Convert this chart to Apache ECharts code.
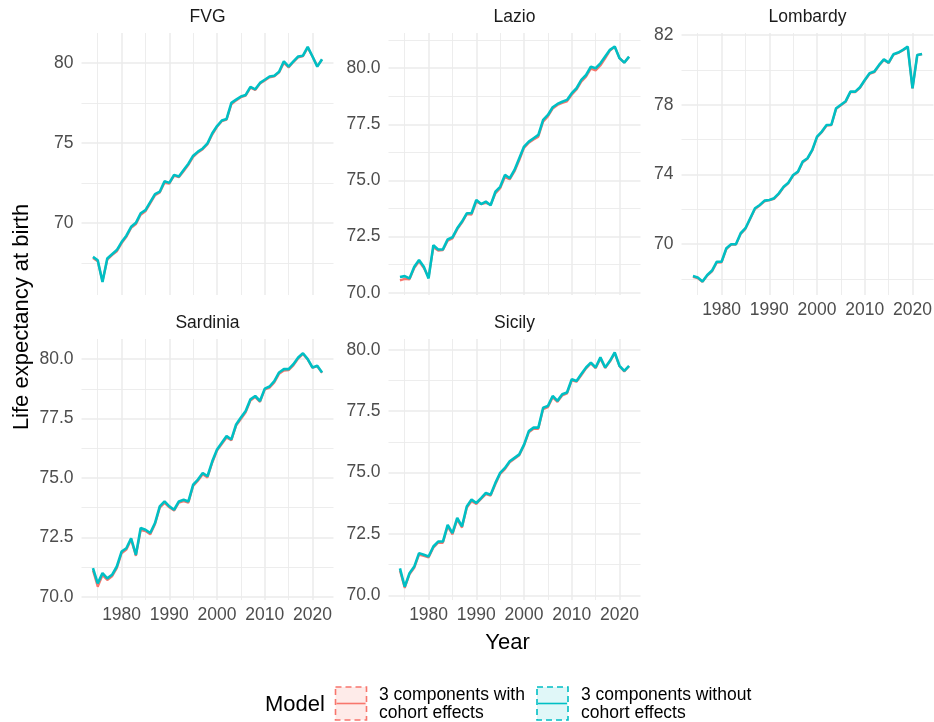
<!DOCTYPE html>
<html>
<head>
<meta charset="utf-8">
<title>Life expectancy at birth by region</title>
<script src="https://cdn.jsdelivr.net/npm/echarts@6/dist/echarts.min.js"></script>
<style>
  html, body { margin: 0; padding: 0; background: #ffffff; }
  #chart { width: 934px; height: 722px; }
</style>
</head>
<body>
<div id="chart"></div>
<script>
// Calendar years 1974–2022
const years = [];
for (let y = 1974; y <= 2022; y++) years.push(y);

const regions = ['FVG', 'Lazio', 'Lombardy', 'Sardinia', 'Sicily'];
const modelNames = ['3 components with\ncohort effects', '3 components without\ncohort effects'];

// Life expectancy at birth, model without cohort effects
const fvgWithout = [67.87, 67.66, 66.30, 67.77, 68.04, 68.30, 68.80, 69.20, 69.75, 70.00,
  70.60, 70.80, 71.30, 71.80, 71.95, 72.60, 72.50, 73.00, 72.90, 73.30,
  73.70, 74.20, 74.45, 74.65, 74.97, 75.60, 76.05, 76.40, 76.50, 77.50,
  77.70, 77.90, 78.00, 78.50, 78.35, 78.75, 78.95, 79.15, 79.20, 79.45,
  80.10, 79.77, 80.10, 80.40, 80.45, 81.00, 80.40, 79.77, 80.23];
const lazioWithout = [70.70, 70.74, 70.64, 71.16, 71.46, 71.16, 70.64, 72.12, 71.93, 71.93,
  72.38, 72.47, 72.87, 73.17, 73.54, 73.54, 74.13, 73.95, 74.06, 73.90,
  74.50, 74.72, 75.25, 75.10, 75.47, 75.99, 76.51, 76.73, 76.88, 77.03,
  77.70, 77.92, 78.26, 78.41, 78.51, 78.59, 78.89, 79.11, 79.48, 79.70,
  80.07, 80.00, 80.22, 80.52, 80.82, 80.97, 80.45, 80.25, 80.52];
const lombardyWithout = [68.18, 68.10, 67.86, 68.24, 68.49, 69.00, 69.00, 69.77, 70.00, 70.00,
  70.63, 70.92, 71.49, 72.06, 72.25, 72.50, 72.54, 72.64, 72.92, 73.30,
  73.53, 73.97, 74.16, 74.74, 74.93, 75.41, 76.17, 76.46, 76.84, 76.85,
  77.80, 78.00, 78.20, 78.75, 78.75, 79.00, 79.42, 79.80, 79.90, 80.28,
  80.60, 80.41, 80.89, 80.99, 81.14, 81.33, 78.94, 80.85, 80.91];
const sardiniaWithout = [71.20, 70.56, 70.99, 70.77, 70.92, 71.27, 71.90, 72.04, 72.46, 71.76,
  72.89, 72.82, 72.68, 73.10, 73.80, 74.01, 73.80, 73.66, 74.01, 74.08,
  74.01, 74.72, 74.93, 75.21, 75.07, 75.70, 76.20, 76.48, 76.76, 76.62,
  77.25, 77.54, 77.82, 78.31, 78.45, 78.24, 78.76, 78.85, 79.08, 79.44,
  79.58, 79.58, 79.79, 80.07, 80.25, 80.00, 79.65, 79.72, 79.44];
const sicilyWithout = [71.10, 70.35, 70.90, 71.17, 71.72, 71.65, 71.58, 71.99, 72.19, 72.19,
  72.87, 72.53, 73.15, 72.81, 73.62, 73.90, 73.76, 73.96, 74.17, 74.10,
  74.58, 74.99, 75.19, 75.46, 75.60, 75.74, 76.14, 76.69, 76.83, 76.83,
  77.64, 77.71, 78.12, 77.92, 78.19, 78.26, 78.80, 78.73, 79.01, 79.28,
  79.48, 79.28, 79.69, 79.28, 79.55, 79.89, 79.35, 79.14, 79.35];

// Life expectancy at birth, model with cohort effects
const fvgWith = [67.80, 67.60, 66.35, 67.70, 67.98, 68.22, 68.72, 69.12, 69.68, 69.92,
  70.50, 70.72, 71.22, 71.72, 71.90, 72.50, 72.45, 72.95, 72.85, 73.22,
  73.62, 74.12, 74.40, 74.60, 74.92, 75.52, 76.00, 76.35, 76.45, 77.40,
  77.65, 77.85, 77.95, 78.45, 78.30, 78.70, 78.90, 79.10, 79.15, 79.40,
  80.00, 79.72, 80.05, 80.35, 80.42, 80.95, 80.40, 79.80, 80.20];
const lazioWith = [70.55, 70.62, 70.60, 71.10, 71.40, 71.10, 70.70, 72.02, 71.88, 71.90,
  72.32, 72.42, 72.82, 73.12, 73.50, 73.48, 74.05, 73.95, 74.00, 73.92,
  74.42, 74.65, 75.15, 75.05, 75.40, 75.90, 76.45, 76.68, 76.82, 76.95,
  77.62, 77.85, 78.20, 78.36, 78.45, 78.52, 78.82, 79.05, 79.40, 79.62,
  79.98, 79.90, 80.12, 80.44, 80.78, 80.95, 80.45, 80.25, 80.50];
const lombardyWith = [68.12, 68.05, 67.84, 68.20, 68.44, 68.95, 68.96, 69.72, 69.97, 69.98,
  70.58, 70.88, 71.45, 72.02, 72.22, 72.46, 72.52, 72.60, 72.88, 73.26,
  73.50, 73.93, 74.12, 74.70, 74.90, 75.37, 76.13, 76.42, 76.80, 76.82,
  77.76, 77.96, 78.16, 78.72, 78.72, 78.96, 79.38, 79.76, 79.86, 80.24,
  80.56, 80.38, 80.86, 80.96, 81.12, 81.30, 78.94, 80.84, 80.90];
const sardiniaWith = [71.10, 70.42, 70.90, 70.70, 70.85, 71.20, 71.82, 71.98, 72.40, 71.72,
  72.80, 72.76, 72.62, 73.05, 73.74, 73.95, 73.76, 73.62, 73.96, 74.02,
  73.96, 74.66, 74.88, 75.15, 75.02, 75.64, 76.15, 76.42, 76.70, 76.58,
  77.20, 77.48, 77.76, 78.26, 78.40, 78.20, 78.72, 78.80, 79.02, 79.38,
  79.52, 79.54, 79.74, 80.02, 80.22, 79.98, 79.64, 79.70, 79.42];
const sicilyWith = [71.00, 70.30, 70.85, 71.12, 71.66, 71.60, 71.54, 71.94, 72.14, 72.14,
  72.80, 72.48, 73.08, 72.76, 73.56, 73.84, 73.72, 73.92, 74.12, 74.06,
  74.52, 74.94, 75.14, 75.42, 75.56, 75.70, 76.10, 76.64, 76.78, 76.78,
  77.58, 77.66, 78.06, 77.88, 78.14, 78.22, 78.75, 78.70, 78.96, 79.24,
  79.44, 79.25, 79.64, 79.26, 79.52, 79.86, 79.33, 79.12, 79.33];

const withCohort = [fvgWith, lazioWith, lombardyWith, sardiniaWith, sicilyWith];
const withoutCohort = [fvgWithout, lazioWithout, lombardyWithout, sardiniaWithout, sicilyWithout];

// Axis breaks
const xMajorTicks = [1980, 1990, 2000, 2010, 2020];
const xMinorTicks = [1975, 1985, 1995, 2005, 2015];
const yMajorTicks = [
  [70, 75, 80],
  [70, 72.5, 75, 77.5, 80],
  [70, 74, 78, 82],
  [70, 72.5, 75, 77.5, 80],
  [70, 72.5, 75, 77.5, 80]
];
const yMinorTicks = [
  [67.5, 72.5, 77.5],
  [71.25, 73.75, 76.25, 78.75, 81.25],
  [68, 72, 76, 80],
  [71.25, 73.75, 76.25, 78.75],
  [71.25, 73.75, 76.25, 78.75]
];
const yDecimals = [0, 1, 0, 1, 1];
const yRanges = [[65.49, 81.87], [69.90, 81.57], [67.09, 82.11], [69.86, 80.85], [69.81, 80.44]];
const xRange = [1971.6, 2024.4];

// Panel layout (facet_wrap, 3 columns)
const panels = [
  { left: 81.5, top: 33, width: 252, height: 262, xLabels: false },
  { left: 388.5, top: 33, width: 252, height: 262, xLabels: false },
  { left: 681.5, top: 33, width: 252, height: 262, xLabels: true },
  { left: 81.5, top: 339, width: 252, height: 261, xLabels: true },
  { left: 388.5, top: 339, width: 252, height: 261, xLabels: true }
];

const RED = '#F8766D';
const TEAL = '#00BFC4';
const GRID = '#EBEBEB';
const FONT = "'Liberation Sans', Arial, sans-serif";

const grids = [], xAxes = [], yAxes = [], series = [], graphics = [];

panels.forEach((p, i) => {
  grids.push({ left: p.left, top: p.top, width: p.width, height: p.height,
    containLabel: false, outerBoundsMode: 'none', show: false });

  const baseX = { type: 'value', gridIndex: i, min: xRange[0], max: xRange[1],
    axisLine: { show: false } };
  xAxes.push(Object.assign({}, baseX, {
    axisTick: { show: false, customValues: xMajorTicks },
    axisLabel: { show: p.xLabels, customValues: xMajorTicks, formatter: v => String(v),
      color: '#4d4d4d', fontSize: 17.5, fontFamily: FONT, margin: 6 },
    splitLine: { show: true, lineStyle: { color: GRID, width: 1.5 } }
  }));
  xAxes.push(Object.assign({}, baseX, {
    axisTick: { show: false, customValues: xMinorTicks },
    axisLabel: { show: false, customValues: xMinorTicks },
    splitLine: { show: true, lineStyle: { color: GRID, width: 0.9 } }
  }));

  const baseY = { type: 'value', gridIndex: i, min: yRanges[i][0], max: yRanges[i][1],
    axisLine: { show: false } };
  yAxes.push(Object.assign({}, baseY, {
    axisTick: { show: false, customValues: yMajorTicks[i] },
    axisLabel: { show: true, customValues: yMajorTicks[i],
      formatter: v => Number(v).toFixed(yDecimals[i]),
      color: '#4d4d4d', fontSize: 17.5, fontFamily: FONT, margin: 8 },
    splitLine: { show: true, lineStyle: { color: GRID, width: 1.5 } }
  }));
  yAxes.push(Object.assign({}, baseY, {
    axisTick: { show: false, customValues: yMinorTicks[i] },
    axisLabel: { show: false, customValues: yMinorTicks[i] },
    splitLine: { show: true, lineStyle: { color: GRID, width: 0.9 } }
  }));

  [[withCohort[i], RED, 2.2, 2], [withoutCohort[i], TEAL, 2.6, 3]].forEach(([vals, color, w, z], k) => {
    series.push({
      name: modelNames[k],
      type: 'line',
      xAxisIndex: 2 * i,
      yAxisIndex: 2 * i,
      data: years.map((y, j) => [y, vals[j]]),
      showSymbol: false,
      symbol: 'none',
      z: z,
      lineStyle: { color: color, width: w },
      itemStyle: { color: color },
      emphasis: { disabled: true },
      animation: false
    });
  });

  // Facet strip label
  graphics.push({
    type: 'text', x: p.left + p.width / 2, y: p.top - 16,
    style: { text: regions[i], fill: '#1a1a1a', font: `17.5px ${FONT}`,
      textAlign: 'center', textVerticalAlign: 'middle' }
  });
});

// Axis titles
graphics.push({
  type: 'text', x: 507.5, y: 643,
  style: { text: 'Year', fill: '#000000', font: `22px ${FONT}`,
    textAlign: 'center', textVerticalAlign: 'middle' }
});
graphics.push({
  type: 'text', x: 22, y: 317, rotation: Math.PI / 2,
  style: { text: 'Life expectancy at birth', fill: '#000000', font: `22px ${FONT}`,
    textAlign: 'center', textVerticalAlign: 'middle' }
});

// Legend
graphics.push({
  type: 'text', x: 265, y: 705,
  style: { text: 'Model', fill: '#000000', font: `22px ${FONT}`,
    textAlign: 'left', textVerticalAlign: 'middle' }
});
const legendKeys = [
  { x: 335.5, color: RED, fill: 'rgba(248,118,109,0.15)', textX: 379 },
  { x: 537, color: TEAL, fill: 'rgba(0,191,196,0.12)', textX: 581 }
];
legendKeys.forEach((k, i) => {
  graphics.push({
    type: 'rect', shape: { x: k.x, y: 687, width: 31, height: 33 },
    style: { fill: k.fill, stroke: k.color, lineWidth: 1.6, lineDash: [6, 4] }
  });
  graphics.push({
    type: 'line', shape: { x1: k.x + 1, y1: 703.5, x2: k.x + 30, y2: 703.5 },
    style: { stroke: k.color, lineWidth: 1.6 }
  });
  modelNames[i].split('\n').forEach((line, j) => {
    graphics.push({
      type: 'text', x: k.textX, y: 695 + j * 18,
      style: { text: line, fill: '#000000', font: `17.5px ${FONT}`,
        textAlign: 'left', textVerticalAlign: 'middle' }
    });
  });
});

const chart = echarts.init(document.getElementById('chart'), null, { renderer: 'canvas' });
chart.setOption({
  animation: false,
  backgroundColor: '#ffffff',
  grid: grids,
  xAxis: xAxes,
  yAxis: yAxes,
  series: series,
  graphic: graphics
});
</script>
</body>
</html>
